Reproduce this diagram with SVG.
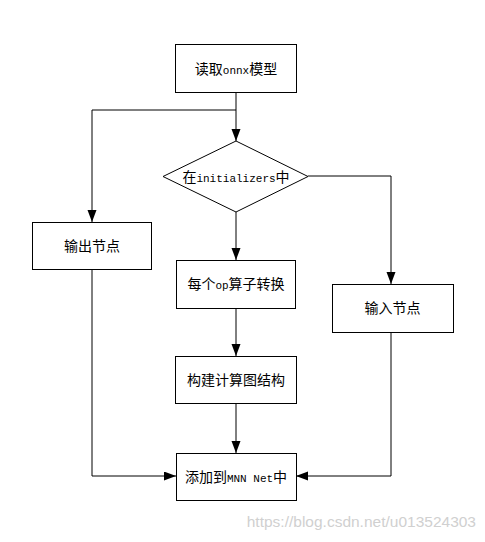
<svg xmlns="http://www.w3.org/2000/svg" width="485" height="542" viewBox="0 0 485 542">
<style>
.box{fill:#fff;stroke:#000;stroke-width:1}
.t{font-family:"Noto Sans CJK SC","Liberation Sans",sans-serif;font-size:14px;fill:#000;text-anchor:middle}
.a{font-family:"Liberation Mono",monospace;font-size:11px}
.c{fill:none;stroke:#000;stroke-width:1;marker-end:url(#arr)}
.wm{font-family:"Liberation Sans",sans-serif;font-size:15.5px;fill:#d0d0d0;text-anchor:end}
</style>
<defs>
<marker id="arr" markerUnits="userSpaceOnUse" markerWidth="13" markerHeight="10" refX="12" refY="4.5" orient="auto">
<path d="M0,0 L12,4.5 L0,9 z" fill="#000"/>
</marker>
</defs>
<rect width="485" height="542" fill="#fff"/>
<g id="connectors">
<path class="c" d="M236,93 V141"/>
<path class="c" d="M236,110 H92 V222"/>
<path class="c" d="M308,176 H391 V284"/>
<path class="c" d="M236,212 V260"/>
<path class="c" d="M236,308 V356"/>
<path class="c" d="M236,403 V453"/>
<path class="c" d="M92,269 V476 H176"/>
<path class="c" d="M391,332 V476 H296"/>
</g>
<g id="read">
<rect class="box" x="175.5" y="44.5" width="121" height="48"/>
<text class="t" x="236" y="73.5">读取<tspan class="a">onnx</tspan>模型</text>
</g>
<g id="decision">
<polygon class="box" points="236,141 308,176.5 236,212 163,176.5"/>
<text class="t" x="236" y="181.5">在<tspan class="a">initializers</tspan>中</text>
</g>
<g id="output">
<rect class="box" x="32.5" y="222.5" width="119" height="47"/>
<text class="t" x="92" y="250.5">输出节点</text>
</g>
<g id="op">
<rect class="box" x="176.5" y="260.5" width="119" height="48"/>
<text class="t" x="236" y="289">每个<tspan class="a">op</tspan>算子转换</text>
</g>
<g id="input">
<rect class="box" x="332.5" y="284.5" width="121" height="48"/>
<text class="t" x="392.5" y="313">输入节点</text>
</g>
<g id="build">
<rect class="box" x="175.5" y="356.5" width="121" height="47"/>
<text class="t" x="236" y="384.5">构建计算图结构</text>
</g>
<g id="add">
<rect class="box" x="176.5" y="453.5" width="120" height="47"/>
<text class="t" x="236" y="481.5">添加到<tspan class="a">MNN Net</tspan>中</text>
</g>
<text class="wm" x="476" y="527">https://blog.csdn.net/u013524303</text>
</svg>
